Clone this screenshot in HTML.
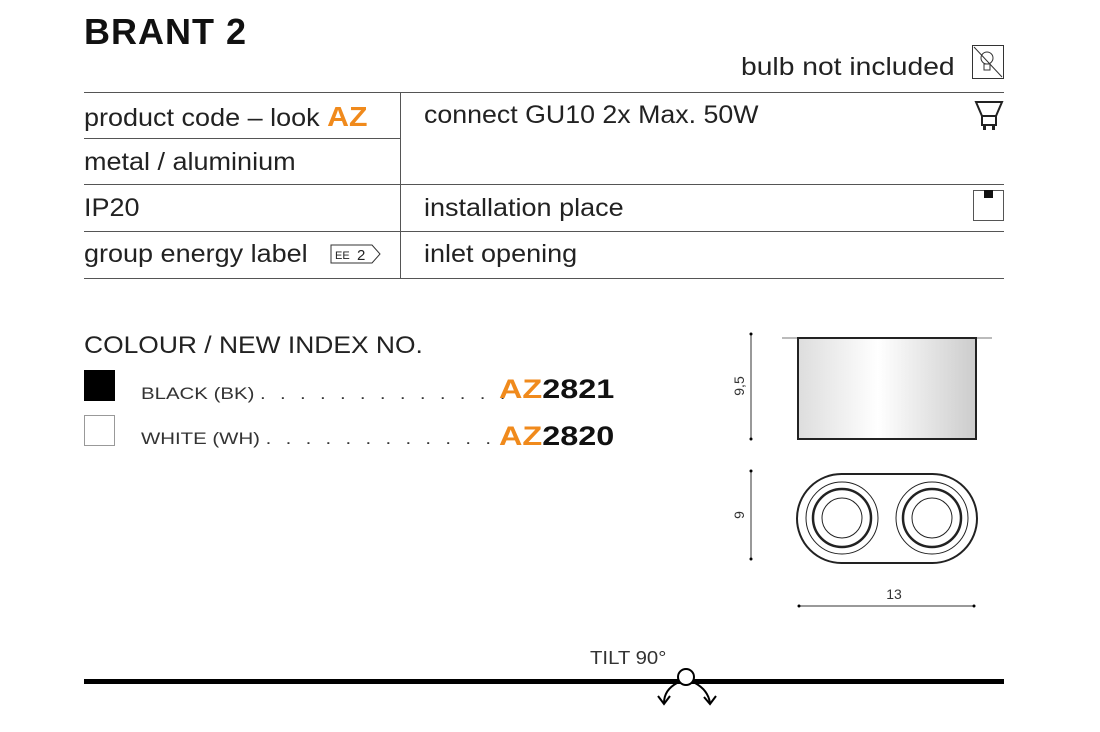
<!DOCTYPE html>
<html><head><style>
body{margin:0;width:1100px;height:732px;background:#fff;position:relative;font-family:"Liberation Sans",sans-serif;color:#222;overflow:hidden}
.t{position:absolute;white-space:nowrap;line-height:1;transform-origin:0 0;transform:scaleX(1.12)}
.h{position:absolute;height:1px;background:#555}
</style></head><body>
<div class="t" style="left:84px;top:14px;font-size:36px;font-weight:bold;letter-spacing:1px;color:#111;transform:scaleX(1.0)">BRANT 2</div>
<div class="t" style="left:741px;top:55px;font-size:25px;transform:scaleX(1.13)">bulb not included</div>
<div class="h" style="left:84px;top:92px;width:920px"></div>
<div class="h" style="left:84px;top:138px;width:316px"></div>
<div class="h" style="left:84px;top:184px;width:920px"></div>
<div class="h" style="left:84px;top:231px;width:920px"></div>
<div class="h" style="left:84px;top:278px;width:920px"></div>
<div style="position:absolute;left:400px;top:92px;width:1px;height:186px;background:#555"></div>
<div class="t" style="left:84px;top:103px;font-size:25px;transform:scaleX(1.08)">product code – look <b style="color:#f08a1c;font-size:28px">AZ</b></div>
<div class="t" style="left:84px;top:150px;font-size:25px;transform:scaleX(1.08)">metal / aluminium</div>
<div class="t" style="left:84px;top:196px;font-size:25px;transform:scaleX(1.08)">IP20</div>
<div class="t" style="left:84px;top:242px;font-size:25px;transform:scaleX(1.08)">group energy label</div>
<div class="t" style="left:424px;top:103px;font-size:25px;transform:scaleX(1.07)">connect GU10 2x Max. 50W</div>
<div class="t" style="left:424px;top:196px;font-size:25px;transform:scaleX(1.08)">installation place</div>
<div class="t" style="left:424px;top:242px;font-size:25px;transform:scaleX(1.08)">inlet opening</div>
<svg style="position:absolute;left:0;top:0" width="1100" height="732">
<rect x="972.5" y="45.5" width="31" height="33" fill="none" stroke="#333"/>
<line x1="974" y1="47" x2="1002" y2="77" stroke="#333"/>
<circle cx="987" cy="58" r="6" fill="none" stroke="#333"/>
<rect x="984" y="64" width="6" height="6" fill="none" stroke="#333"/>
<path d="M976 102 L1002 102 L996 116 L982 116 Z" fill="none" stroke="#222" stroke-width="2"/>
<rect x="982" y="116" width="14" height="9" fill="none" stroke="#222" stroke-width="2"/>
<rect x="983" y="125" width="3" height="5" fill="#222"/><rect x="992" y="125" width="3" height="5" fill="#222"/>
<rect x="973.5" y="190.5" width="30" height="30" fill="none" stroke="#555"/>
<rect x="984" y="190" width="9" height="8" fill="#111"/>
<path d="M331 245 H372 L380 254 L372 263 H331 Z" fill="none" stroke="#333"/>
<text x="335" y="259" font-size="11" font-family="Liberation Sans" fill="#222">EE</text>
<text x="357" y="260" font-size="15" font-family="Liberation Sans" fill="#222">2</text>
<rect x="84" y="370" width="31" height="31" fill="#000"/>
<rect x="84.5" y="415.5" width="30" height="30" fill="#fff" stroke="#999"/>
<line x1="782" y1="338" x2="992" y2="338" stroke="#777"/>
<defs><linearGradient id="g" x1="0" x2="1"><stop offset="0" stop-color="#ddd"/><stop offset=".45" stop-color="#fff"/><stop offset="1" stop-color="#ccc"/></linearGradient></defs>
<rect x="798" y="338" width="178" height="101" fill="url(#g)" stroke="#222" stroke-width="2"/>
<line x1="751" y1="334" x2="751" y2="439" stroke="#333"/>
<circle cx="751" cy="334" r="1.5"/><circle cx="751" cy="439" r="1.5"/>
<text transform="translate(744 386) rotate(-90)" text-anchor="middle" font-size="14" font-family="Liberation Sans" fill="#333">9,5</text>
<rect x="797" y="474" width="180" height="89" rx="44.5" fill="none" stroke="#222" stroke-width="2"/>
<g fill="none" stroke="#222">
<circle cx="842" cy="518" r="36"/><circle cx="842" cy="518" r="29" stroke-width="2.5"/><circle cx="842" cy="518" r="20"/>
<circle cx="932" cy="518" r="36"/><circle cx="932" cy="518" r="29" stroke-width="2.5"/><circle cx="932" cy="518" r="20"/>
</g>
<line x1="751" y1="471" x2="751" y2="559" stroke="#333"/>
<circle cx="751" cy="471" r="1.5"/><circle cx="751" cy="559" r="1.5"/>
<text transform="translate(744 515) rotate(-90)" text-anchor="middle" font-size="14" font-family="Liberation Sans" fill="#333">9</text>
<line x1="799" y1="606" x2="974" y2="606" stroke="#333"/>
<circle cx="799" cy="606" r="1.5"/><circle cx="974" cy="606" r="1.5"/>
<text x="894" y="599" text-anchor="middle" font-size="14" font-family="Liberation Sans" fill="#333">13</text>
<rect x="84" y="679" width="920" height="5" fill="#000"/>
<circle cx="686" cy="677" r="8" fill="#fff" stroke="#000" stroke-width="2"/>
<path d="M677 683 Q664 690 664 703" fill="none" stroke="#000" stroke-width="2"/>
<path d="M658 696 L664 704 L670 696" fill="none" stroke="#000" stroke-width="2"/>
<path d="M695 683 Q708 690 710 703" fill="none" stroke="#000" stroke-width="2"/>
<path d="M704 697 L710 704 L716 696" fill="none" stroke="#000" stroke-width="2"/>
</svg>
<div class="t" style="left:84px;top:334px;font-size:24px;transform:scaleX(1.1)">COLOUR / NEW INDEX NO.</div>
<div class="t" style="left:141px;top:385px;font-size:17px;color:#333;transform:scaleX(1.2)">BLACK (BK) <span style="letter-spacing:3.6px">. . . . . . . . . . . . .</span></div>
<div class="t" style="left:141px;top:430px;font-size:17px;color:#333;transform:scaleX(1.2)">WHITE (WH) <span style="letter-spacing:3.6px">. . . . . . . . . . . .</span></div>
<div class="t" style="left:499px;top:376px;font-size:27px;font-weight:bold;color:#111;transform:scaleX(1.2)"><span style="color:#f08a1c">AZ</span>2821</div>
<div class="t" style="left:499px;top:423px;font-size:27px;font-weight:bold;color:#111;transform:scaleX(1.2)"><span style="color:#f08a1c">AZ</span>2820</div>
<div class="t" style="left:590px;top:649px;font-size:18px;color:#333;transform:scaleX(1.13)">TILT 90°</div>
</body></html>
